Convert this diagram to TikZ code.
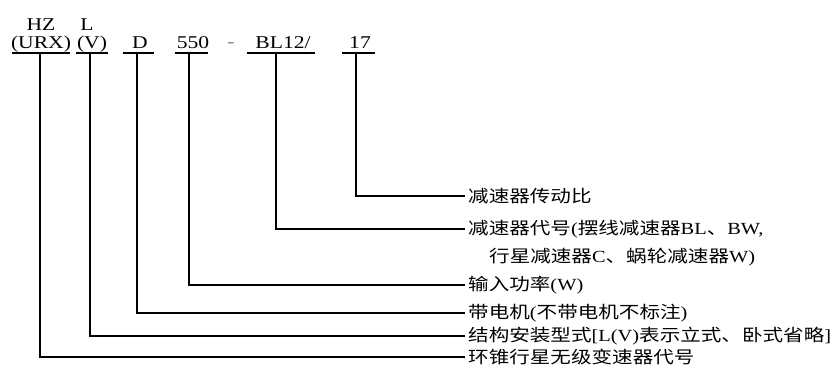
\documentclass[tikz,border=0pt]{standalone}
\usepackage{fontspec}
\setmainfont{Liberation Serif}[FakeStretch=1.2]
\newfontfamily\cjk{Noto Sans CJK SC}[FakeStretch=1.21]
\usetikzlibrary{positioning}
\newcommand{\lat}[1]{{\rmfamily #1}}

\begin{document}
\begin{tikzpicture}[x=1pt, y=-1pt,
    code/.style={font=\fontsize{18}{18}\selectfont, inner sep=0pt, anchor=base},
    desc/.style={font=\fontsize{17}{17}\selectfont\cjk, anchor=west, inner sep=3pt},
    lead/.style={line width=1.1pt},
  ]
  \useasboundingbox (0,0) rectangle (840,368);
  % model code
  \node[code] (hz)    at (41,30)  {HZ};
  \node[code] (urx)   at (41,48.5) {(URX)};
  \node[code] (l)     at (87,30)  {L};
  \node[code] (v)     at (92,48.5) {(V)};
  \node[code] (d)     at (140,48) {D};
  \node[code] (pw)    at (193,48) {550};
  \node[code, text=gray] (dash) at (231,47) {-};
  \node[code] (bl)    at (283,48) {BL12/};
  \node[code] (ratio) at (360,48) {17};
  \foreach \a/\b in {12/70, 76/108, 123/154, 175/208, 247/315, 342/375}
    \draw[lead] (\a,53) -- (\b,53);
  % taps under the code
  \coordinate (t1) at (40,53);
  \coordinate (t2) at (90,53);
  \coordinate (t3) at (137,53);
  \coordinate (t4) at (189,53);
  \coordinate (t5) at (276,53);
  \coordinate (t6) at (356,53);
  % meanings
  \node[desc] (c6)  at (465,196) {减速器传动比};
  \node[desc] (c5)  at (465,229) {减速器代号\lat{(}摆线减速器\lat{BL}、\lat{BW,}};
  \node[desc] (c5b) at (486,257) {行星减速器\lat{C}、蜗轮减速器\lat{W)}};
  \node[desc] (c4)  at (465,285) {输入功率\lat{(W)}};
  \node[desc] (c3)  at (465,313) {带电机\lat{(}不带电机不标注\lat{)}};
  \node[desc] (c2)  at (465,336) {结构安装型式\lat{[L(V)}表示立式、卧式省略\lat{]}};
  \node[desc] (c1)  at (465,357) {环锥行星无级变速器代号};
  % leaders
  \draw[lead] (t1) |- (c1);
  \draw[lead] (t2) |- (c2);
  \draw[lead] (t3) |- (c3);
  \draw[lead] (t4) |- (c4);
  \draw[lead] (t5) |- (c5);
  \draw[lead] (t6) |- (c6);
\end{tikzpicture}
\end{document}
